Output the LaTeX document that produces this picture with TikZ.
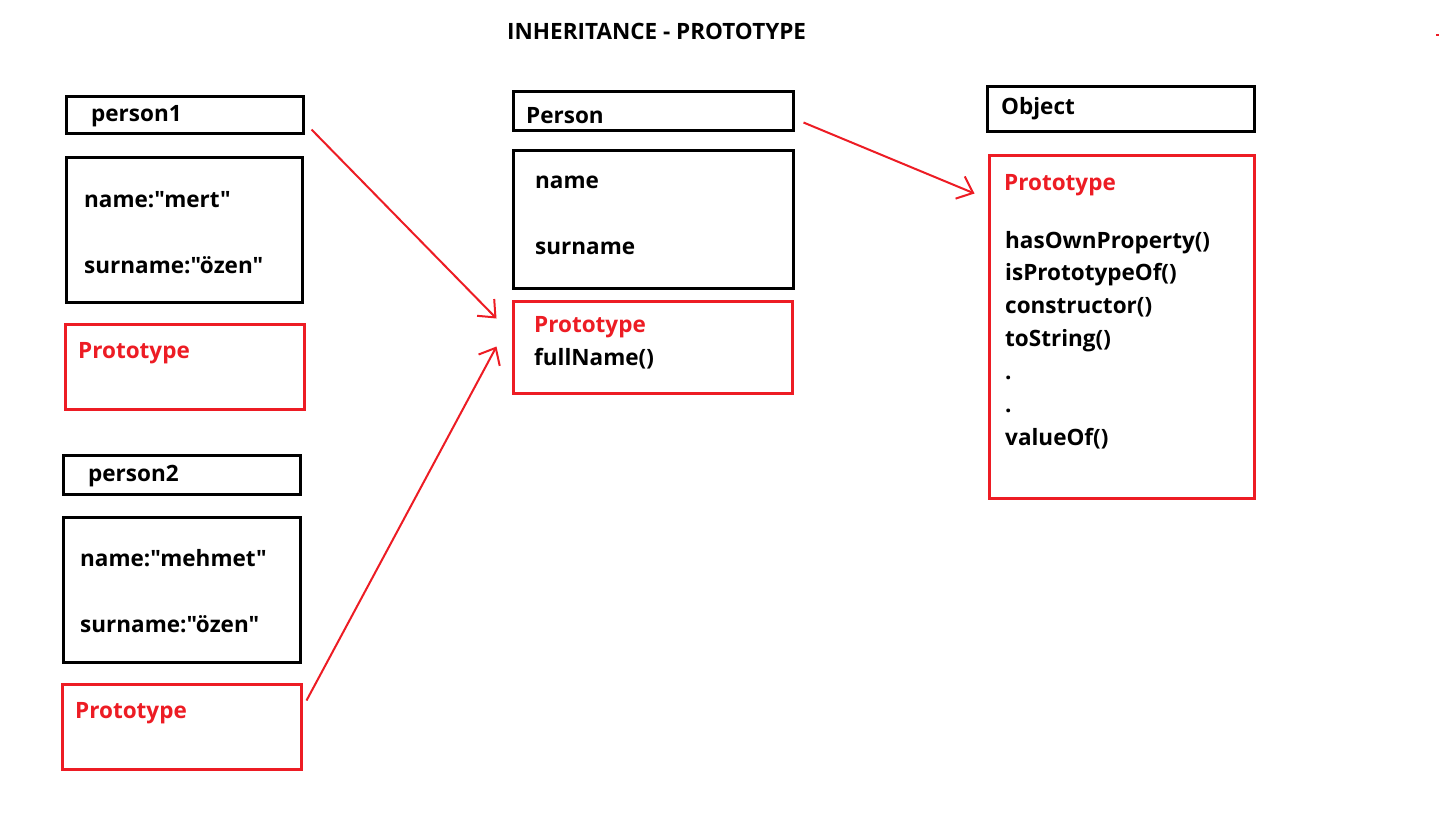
\documentclass[tikz,border=0pt]{standalone}
\usepackage{fontspec}
\setmainfont{Open Sans}[Ligatures=TeXOff]
\usetikzlibrary{arrows.meta,calc}
\definecolor{pred}{HTML}{ED1C24}
\begin{document}
\begin{tikzpicture}[x=1pt,y=-1pt,
  font=\bfseries\fontsize{22.5}{26}\selectfont,
  bbox/.style={draw=black,line width=3pt,inner sep=0pt},
  rbox/.style={draw=pred,line width=3pt,inner sep=0pt},
  txt/.style={anchor=base west,inner sep=0pt,text=black},
  rtxt/.style={anchor=base west,inner sep=0pt,text=pred},
  conn/.style={draw=pred,line width=2pt,-{Straight Barb[length=14pt,width=24pt,line width=2pt]}}]
\useasboundingbox (0,0) rectangle (1440,833);
\fill[white] (0,0) rectangle (1440,833);
% title
\node[txt] (title) at (507,39) {INHERITANCE - PROTOTYPE};
\fill[pred] (1436,34) rectangle (1439,36);
% person1
\node[bbox,minimum width=237pt,minimum height=37pt] (p1h) at (184.5,114.5) {};
\node[txt] (p1ht) at (91,121) {person1};
\node[bbox,minimum width=236pt,minimum height=145pt] (p1b) at (184,229.5) {};
\node[txt] (p1n) at (84,207) {name:"mert"};
\node[txt] (p1s) at (84,273) {surname:"özen"};
\node[rbox,minimum width=239pt,minimum height=85pt] (p1p) at (184.5,366.5) {};
\node[rtxt] (p1pt) at (78,358) {Prototype};
% person2
\node[bbox,minimum width=237pt,minimum height=39pt] (p2h) at (181.5,474.5) {};
\node[txt] (p2ht) at (88,481) {person2};
\node[bbox,minimum width=237pt,minimum height=145pt] (p2b) at (181.5,589.5) {};
\node[txt] (p2n) at (80,566) {name:"mehmet"};
\node[txt] (p2s) at (80,632) {surname:"özen"};
\node[rbox,minimum width=239pt,minimum height=85pt] (p2p) at (181.5,726.5) {};
\node[rtxt] (p2pt) at (75,718) {Prototype};
% Person
\node[bbox,minimum width=280pt,minimum height=39pt] (ph) at (653,110.5) {};
\node[txt] (pht) at (526,123) {Person};
\node[bbox,minimum width=280pt,minimum height=138pt] (pb) at (653,219) {};
\node[txt] (pbn) at (535,188) {name};
\node[txt] (pbs) at (535,254) {surname};
\node[rbox,minimum width=279pt,minimum height=92pt] (pp) at (652.5,347) {};
\node[rtxt] (ppt) at (534,332) {Prototype};
\node[txt] (ppf) at (534,365) {fullName()};
% Object
\node[bbox,minimum width=267pt,minimum height=45pt] (oh) at (1120.5,108.5) {};
\node[txt] (oht) at (1001,114) {Object};
\node[rbox,minimum width=265pt,minimum height=343pt] (op) at (1121.5,326.5) {};
\node[rtxt] (opt) at (1004,190) {Prototype};
\node[txt] (o1) at (1005,248) {hasOwnProperty()};
\node[txt] (o2) at (1005,280) {isPrototypeOf()};
\node[txt] (o3) at (1005,313) {constructor()};
\node[txt] (o4) at (1005,346) {toString()};
\node[txt] (o5) at (1005,379) {.};
\node[txt] (o6) at (1005,412) {.};
\node[txt] (o7) at (1005,445) {valueOf()};
% connectors
\coordinate (a1s) at ($(p1h.south east)+(7,-5)$);
\coordinate (a1e) at ($(pp.north west)+(-15,19)$);
\coordinate (a2s) at ($(p2p.north east)+(4,18)$);
\coordinate (a2e) at ($(pp.north west)+(-15,47)$);
\coordinate (a3s) at ($(ph.east)+(9,12)$);
\coordinate (a3e) at ($(op.north west)+(-13,40)$);
\draw[conn] (a1s) -- (a1e);
\draw[conn] (a2s) -- (a2e);
\draw[conn] (a3s) -- (a3e);
\end{tikzpicture}
\end{document}
